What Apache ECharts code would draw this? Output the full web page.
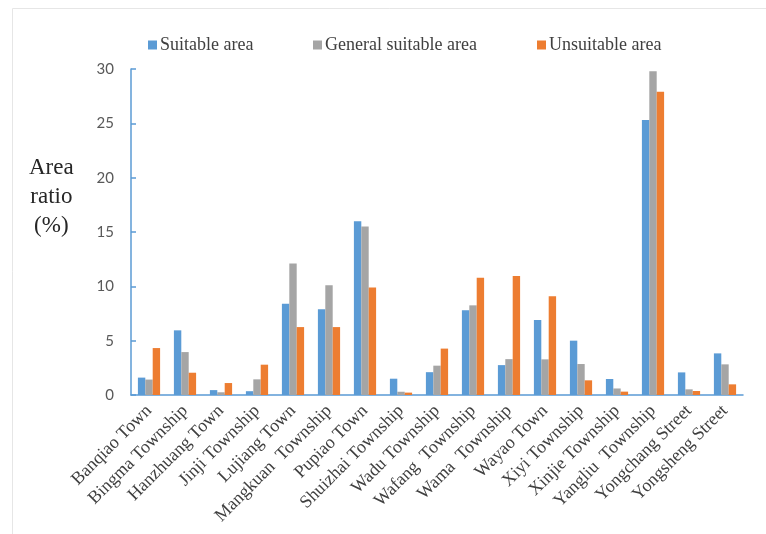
<!DOCTYPE html>
<html>
<head>
<meta charset="utf-8">
<script src="https://cdn.jsdelivr.net/npm/echarts@6/dist/echarts.min.js"></script>
<style>
  html, body { margin: 0; padding: 0; background: #fff; }
  #chart { width: 766px; height: 534px; }
</style>
</head>
<body>
<div id="chart"></div>
<script>
// Townships / streets along the horizontal axis
const categories = [
  'Banqiao Town', 'Bingma Township', 'Hanzhuang Town', 'Jinji Township',
  'Lujiang Town', 'Mangkuan  Township', 'Pupiao Town', 'Shuizhai Township',
  'Wadu Township', 'Wafang  Township', 'Wama  Township', 'Wayao Town',
  'Xiyi Township', 'Xinjie Township', 'Yangliu  Township', 'Yongchang Street',
  'Yongsheng Street'
];

// Area ratio (%) of each suitability class
const suitable = [1.6, 5.95, 0.45, 0.35, 8.4, 7.9, 16.0, 1.5, 2.1, 7.8, 2.75, 6.9, 5.0, 1.47, 25.3, 2.08, 3.83];
const generalSuitable = [1.42, 3.95, 0.25, 1.44, 12.1, 10.1, 15.5, 0.3, 2.7, 8.25, 3.3, 3.28, 2.85, 0.6, 29.8, 0.52, 2.82];
const unsuitable = [4.32, 2.05, 1.1, 2.79, 6.25, 6.25, 9.9, 0.22, 4.27, 10.8, 10.95, 9.08, 1.35, 0.31, 27.9, 0.37, 0.98];

const yTicks = { min: 0, max: 30, interval: 5 };

const seriesNames = ['Suitable area', 'General suitable area', 'Unsuitable area'];
const colors = ['#5B9BD5', '#A5A5A5', '#ED7D31'];

const serif = '"Liberation Serif", "DejaVu Serif", serif';
const sans = 'Lato, "Noto Sans", sans-serif';

const chart = echarts.init(document.getElementById('chart'), null, { renderer: 'canvas' });

// one legend block per series so each entry sits at its own position
function legendAt(left, name) {
  return {
    left: left, top: 36, padding: 0,
    itemWidth: 9, itemHeight: 9, itemGap: 0,
    icon: 'rect',
    data: [name],
    textStyle: { fontFamily: serif, fontSize: 18, color: '#404040', padding: [0, 0, 0, -2] }
  };
}

chart.setOption({
  animation: false,
  backgroundColor: '#fff',
  color: colors,
  graphic: [
    {
      type: 'rect', silent: true, z: -10,
      shape: { x: 12.5, y: 8.5, width: 800, height: 600 },
      style: { fill: 'none', stroke: '#e6e6e6', lineWidth: 1 }
    },
    {
      type: 'text', left: 29, top: 153,
      style: {
        text: 'Area\nratio\n(%)', fontFamily: serif, fontSize: 23,
        lineHeight: 29, fill: '#262626', align: 'center', textAlign: 'center'
      }
    }
  ],
  legend: [
    legendAt(148, seriesNames[0]),
    legendAt(313, seriesNames[1]),
    legendAt(537, seriesNames[2])
  ],
  grid: { left: 131, right: 23, top: 69, bottom: 139, containLabel: false },
  xAxis: {
    type: 'category',
    data: categories,
    axisLine: { lineStyle: { color: '#5B9BD5', width: 1.5 } },
    axisTick: { show: false },
    axisLabel: {
      rotate: 45, interval: 0, margin: 13,
      fontFamily: serif, fontSize: 18, color: '#404040'
    }
  },
  yAxis: {
    type: 'value',
    min: yTicks.min, max: yTicks.max, interval: yTicks.interval,
    axisLine: { show: true, lineStyle: { color: '#5B9BD5', width: 1.5 } },
    axisTick: { show: true, inside: true, length: 5, lineStyle: { color: '#5B9BD5', width: 1.5 } },
    splitLine: { show: false },
    axisLabel: { margin: 17, fontFamily: sans, fontSize: 15, color: '#595959' }
  },
  series: [
    { name: seriesNames[0], type: 'bar', data: suitable, barWidth: 7.4, barGap: '0%' },
    { name: seriesNames[1], type: 'bar', data: generalSuitable, barWidth: 7.4, barGap: '0%' },
    { name: seriesNames[2], type: 'bar', data: unsuitable, barWidth: 7.4, barGap: '0%' }
  ]
});
</script>
</body>
</html>
